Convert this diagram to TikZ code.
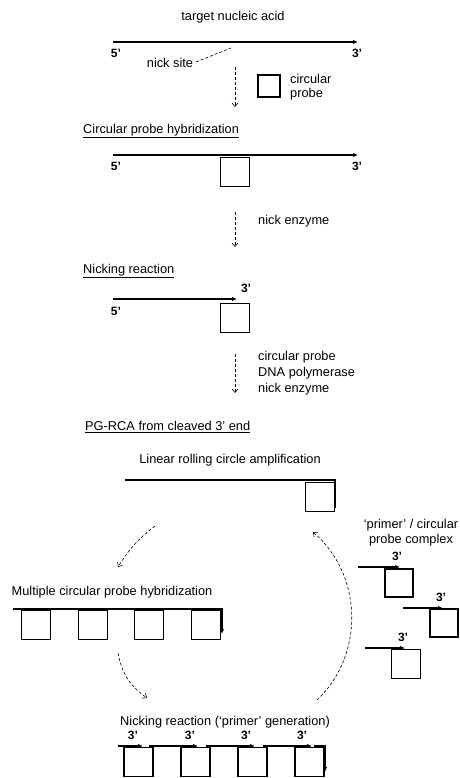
\documentclass[tikz,border=0pt]{standalone}
\usepackage{fontspec}
\setmainfont{Liberation Sans}
\usetikzlibrary{arrows.meta}

\begin{document}
\begin{tikzpicture}[x=1pt,y=-1pt,
  lbl/.style={inner sep=0pt,font=\fontsize{12.8}{14}\selectfont},
  head/.style={lbl,anchor=west},
  endlbl/.style={inner sep=0pt,font=\fontsize{12}{14}\selectfont\bfseries},
  probe/.style={draw,line width=1.6pt,minimum size=29pt,inner sep=0pt},
  strand/.style={line width=1.7pt,-{Latex[length=5pt,width=4.5pt]}},
  bare/.style={line width=1.7pt},
  flow/.style={densely dashed,line width=0.6pt,-{Straight Barb[length=3.5pt,width=6pt]}},
  lead/.style={densely dashed,line width=0.6pt}
]
  \useasboundingbox (0,0) rectangle (459,778);

  \node[lbl] (tna) at (233,17) {target nucleic acid};
  \coordinate (t5) at (113,42);
  \coordinate (t3) at (358,42);
  \draw[strand] (t5) -- (t3);
  \node[endlbl] (t5l) at (116,53) {5'};
  \node[endlbl] (t3l) at (357,53) {3'};
  \node[lbl] (nick) at (170,63) {nick site};
  \coordinate (nk) at (231,48);
  \draw[lead,shorten <=3pt] (nick.east) -- (nk);
  \coordinate (f1a) at (235,67);
  \coordinate (f1b) at (235,107);
  \draw[flow] (f1a) -- (f1b);
  \node[probe,minimum size=22pt] (q0) at (269,86) {};
  \node[lbl,anchor=west,align=left] (q0t) at (290,87) {circular\\probe};

  \node[head] (h1) at (83,131) {\underline{Circular probe hybridization}};
  \coordinate (u5) at (113,155);
  \coordinate (u3) at (358,155);
  \draw[strand] (u5) -- (u3);
  \node[endlbl] (u5l) at (116,166) {5'};
  \node[endlbl] (u3l) at (357,166) {3'};
  \node[probe] (q1) at (235,172) {};
  \coordinate (f2a) at (235,212);
  \coordinate (f2b) at (235,247);
  \draw[flow] (f2a) -- (f2b);
  \node[lbl,anchor=west] (f2t) at (258,221) {nick enzyme};

  \node[head] (h2) at (83,271) {\underline{Nicking reaction}};
  \coordinate (n5) at (113,299);
  \coordinate (n3) at (237,299);
  \draw[strand] (n5) -- (n3);
  \node[endlbl] (n3l) at (246,288) {3'};
  \node[endlbl] (n5l) at (116,311) {5'};
  \node[probe] (q2) at (235,318) {};
  \coordinate (f3a) at (235,354);
  \coordinate (f3b) at (235,393);
  \draw[flow] (f3a) -- (f3b);
  \node[lbl,anchor=west,align=left,font=\fontsize{12.8}{16}\selectfont] (f3t) at (258,373)
    {circular probe\\DNA polymerase\\nick enzyme};

  \node[head] (h3) at (85,427) {\underline{PG-RCA from cleaved 3' end}};
  \node[lbl] (lrca) at (230,460) {Linear rolling circle amplification};
  \coordinate (r5) at (125,480);
  \coordinate (rc) at (335,480);
  \coordinate (r3) at (335,508);
  \draw[bare] (r5) -- (rc) -- (r3);
  \node[probe] (q3) at (320,497) {};

  \coordinate (c1a) at (155,526);
  \coordinate (c1b) at (118,567);
  \draw[flow] (c1a) to[bend right=10] (c1b);
  \coordinate (c2a) at (118,653);
  \coordinate (c2b) at (147,698);
  \draw[flow] (c2a) to[bend right=22] (c2b);
  \coordinate (c3a) at (317,700);
  \coordinate (c3b) at (313,532);
  \draw[flow] (c3a) to[bend right=48] (c3b);

  \node[lbl,align=center,font=\fontsize{12.8}{15}\selectfont] (cpx) at (411,533) {`primer' / circular\\probe complex};
  \node[endlbl] (k1l) at (397,556) {3'};
  \coordinate (k1a) at (358,567);
  \coordinate (k1b) at (400,567);
  \draw[strand] (k1a) -- (k1b);
  \node[probe,minimum size=28pt] (k1) at (399,583) {};
  \node[endlbl] (k2l) at (441,597) {3'};
  \coordinate (k2a) at (403,608);
  \coordinate (k2b) at (443,608);
  \draw[strand] (k2a) -- (k2b);
  \node[probe,minimum size=28pt] (k2) at (444,623) {};
  \node[endlbl] (k3l) at (403,637) {3'};
  \coordinate (k3a) at (365,648);
  \coordinate (k3b) at (405,648);
  \draw[strand] (k3a) -- (k3b);
  \node[probe] (k3) at (406,664) {};

  \node[lbl] (mch) at (112,592) {Multiple circular probe hybridization};
  \coordinate (m5) at (13,609);
  \coordinate (mc) at (222,609);
  \coordinate (m3) at (222,634);
  \draw[strand] (m5) -- (mc) -- (m3);
  \node[probe] (m1) at (36,625) {};
  \node[probe] (m2) at (93,625) {};
  \node[probe] (m3b) at (149,625) {};
  \node[probe] (m4) at (206,625) {};

  \node[lbl] (nrp) at (225,722) {Nicking reaction (`primer' generation)};
  \node[endlbl] (p1l) at (133,735) {3'};
  \node[endlbl] (p2l) at (190,735) {3'};
  \node[endlbl] (p3l) at (246,735) {3'};
  \node[endlbl] (p4l) at (302,735) {3'};
  \coordinate (g0) at (118,746);
  \coordinate (g1) at (143,746);
  \coordinate (g1r) at (149,746);
  \coordinate (g2) at (198,746);
  \coordinate (g2r) at (206,746);
  \coordinate (g3) at (255,746);
  \coordinate (g3r) at (263,746);
  \coordinate (g4) at (312,746);
  \coordinate (g4r) at (314,746);
  \coordinate (gc) at (325,746);
  \coordinate (ge) at (325,772);
  \draw[strand] (g0) -- (g1);
  \draw[strand] (g1r) -- (g2);
  \draw[strand] (g2r) -- (g3);
  \draw[strand] (g3r) -- (g4);
  \draw[strand] (g4r) -- (gc) -- (ge);
  \node[probe] (p1) at (138.5,762) {};
  \node[probe] (p2) at (195.5,762) {};
  \node[probe] (p3) at (252.5,762) {};
  \node[probe] (p4) at (309.5,762) {};
\end{tikzpicture}
\end{document}
